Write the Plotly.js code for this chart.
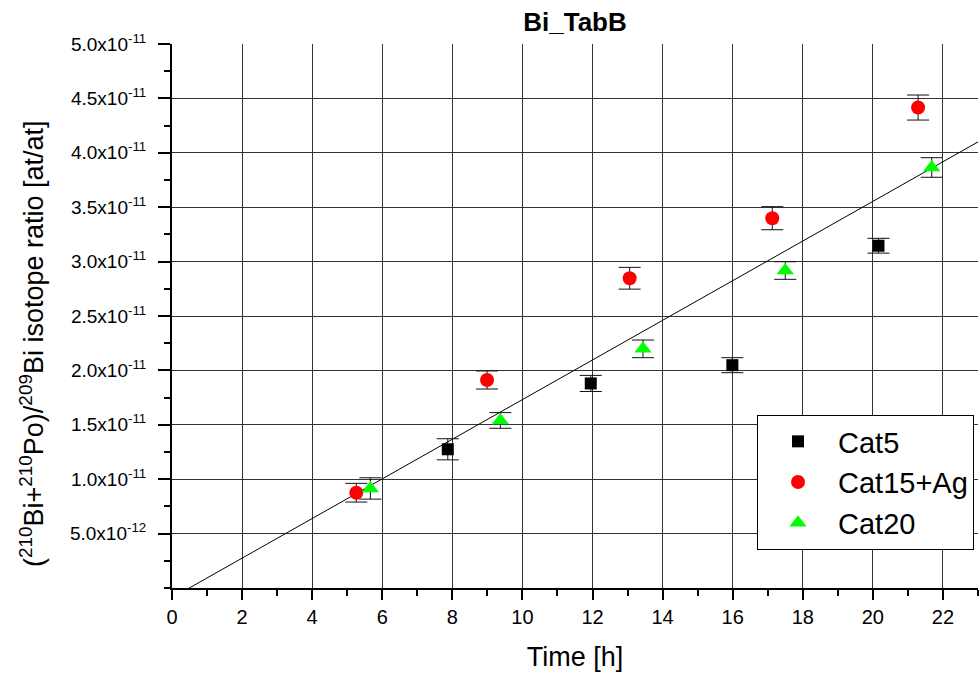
<!DOCTYPE html>
<html>
<head>
<meta charset="utf-8">
<script src="https://cdn.plot.ly/plotly-3.0.1.min.js"></script>
<style>html,body{margin:0;padding:0;background:#fff;}#chart{width:980px;height:677px;}</style>
</head>
<body>
<div id="chart"></div>
<script>
// ---- data ----
const cat5X   = [7.87, 11.95, 15.99, 20.16];
const cat5Y   = [1.275e-11, 1.88e-11, 2.048e-11, 3.146e-11];
const cat5Err = [0.097e-11, 0.074e-11, 0.069e-11, 0.068e-11];

const cat15X   = [5.26, 8.99, 13.06, 17.13, 21.29];
const cat15Y   = [0.876e-11, 1.912e-11, 2.847e-11, 3.399e-11, 4.416e-11];
const cat15Err = [0.086e-11, 0.083e-11, 0.100e-11, 0.106e-11, 0.115e-11];

const cat20X   = [5.66, 9.37, 13.44, 17.5, 21.68];
const cat20Y   = [0.915e-11, 1.54e-11, 2.198e-11, 2.918e-11, 3.865e-11];
const cat20Err = [0.098e-11, 0.072e-11, 0.081e-11, 0.081e-11, 0.090e-11];

const seriesNames = ['Cat5', 'Cat15+Ag', 'Cat20'];

const yTickVals = [0.5e-11, 1.0e-11, 1.5e-11, 2.0e-11, 2.5e-11, 3.0e-11, 3.5e-11, 4.0e-11, 4.5e-11, 5.0e-11];
const yTickText = ['5.0x10<sup>-12</sup>', '1.0x10<sup>-11</sup>', '1.5x10<sup>-11</sup>', '2.0x10<sup>-11</sup>',
                   '2.5x10<sup>-11</sup>', '3.0x10<sup>-11</sup>', '3.5x10<sup>-11</sup>', '4.0x10<sup>-11</sup>',
                   '4.5x10<sup>-11</sup>', '5.0x10<sup>-11</sup>'];
const xRange = [0, 23];
const yTitle = '(<sup>210</sup>Bi+<sup>210</sup>Po)/<sup>209</sup>Bi isotope ratio [at/at]';

// ---- linear fit through all points ----
const allX = cat5X.concat(cat15X, cat20X);
const allY = cat5Y.concat(cat15Y, cat20Y);
const n = allX.length;
const mx = allX.reduce((a, b) => a + b, 0) / n;
const my = allY.reduce((a, b) => a + b, 0) / n;
let sxy = 0, sxx = 0;
for (let i = 0; i < n; i++) { sxy += (allX[i] - mx) * (allY[i] - my); sxx += (allX[i] - mx) ** 2; }
const slope = sxy / sxx;
const icpt = my - slope * mx;
const fitX = xRange.slice();
const fitY = fitX.map(x => icpt + slope * x);

const FONT = 'Liberation Sans, Arial, Helvetica, sans-serif';
const errStyle = {type: 'data', visible: true, color: '#111', thickness: 1, width: 11};

const traces = [
  {x: fitX, y: fitY, mode: 'lines', line: {color: '#000', width: 1}, showlegend: false, hoverinfo: 'skip'},
  {x: cat5X, y: cat5Y, name: seriesNames[0], mode: 'markers', type: 'scatter',
   marker: {symbol: 'square', size: 12, color: '#000000'},
   error_y: Object.assign({array: cat5Err}, errStyle)},
  {x: cat15X, y: cat15Y, name: seriesNames[1], mode: 'markers', type: 'scatter',
   marker: {symbol: 'circle', size: 14, color: '#ff0000'},
   error_y: Object.assign({array: cat15Err}, errStyle)},
  {x: cat20X, y: cat20Y, name: seriesNames[2], mode: 'markers', type: 'scatter',
   marker: {symbol: 'triangle-up', size: 15, color: '#00ff00'},
   error_y: Object.assign({array: cat20Err}, errStyle)}
];

const layout = {
  width: 980, height: 677,
  margin: {l: 172, r: 2, t: 44, b: 89},
  paper_bgcolor: '#fff', plot_bgcolor: '#fff',
  font: {family: FONT, color: '#000', size: 20},
  title: {text: '<b>Bi_TabB</b>', font: {family: FONT, size: 26, color: '#000'},
          xref: 'paper', x: 0.5, xanchor: 'center', yref: 'container', y: 1 - 22/677, yanchor: 'middle'},
  xaxis: {
    range: xRange, tickmode: 'linear', tick0: 0, dtick: 2,
    showgrid: true, gridcolor: '#333', gridwidth: 1, zeroline: false,
    showline: true, linecolor: '#000', linewidth: 2,
    ticks: 'outside', ticklen: 10, tickwidth: 2, tickcolor: '#000',
    tickfont: {family: FONT, size: 20, color: '#000'},
    minor: {dtick: 1, tick0: 0, ticks: 'outside', ticklen: 6, tickwidth: 2, tickcolor: '#000', showgrid: false},
    title: {text: 'Time [h]', font: {family: FONT, size: 27, color: '#000'}, standoff: 20},
    automargin: false
  },
  yaxis: {
    range: [0, 5e-11], tickmode: 'array', tickvals: yTickVals, ticktext: yTickText,
    showgrid: true, gridcolor: '#333', gridwidth: 1, zeroline: false,
    showline: true, linecolor: '#000', linewidth: 2,
    ticks: 'outside', ticklen: 12, tickwidth: 2, tickcolor: '#000',
    ticklabelstandoff: 8,
    tickfont: {family: FONT, size: 19, color: '#000'},
    minor: {dtick: 0.25e-11, tick0: 0, ticks: 'outside', ticklen: 6, tickwidth: 2, tickcolor: '#000', showgrid: false},
    automargin: false
  },
  annotations: [{
    text: yTitle, textangle: -90, showarrow: false,
    xref: 'paper', yref: 'paper', x: (32 - 172) / 806, y: (588 - 344) / 544,
    xanchor: 'center', yanchor: 'middle',
    font: {family: FONT, size: 27, color: '#000'}
  }],
  legend: {
    x: (757 - 172) / 806, xanchor: 'left', y: (588 - 415) / 544, yanchor: 'top',
    bgcolor: '#fff', bordercolor: '#000', borderwidth: 1,
    font: {family: FONT, size: 29, color: '#000'},
    itemwidth: 70, tracegroupgap: 0
  },
  showlegend: true
};

Plotly.newPlot('chart', traces, layout, {staticPlot: true, displayModeBar: false});
</script>
</body>
</html>
